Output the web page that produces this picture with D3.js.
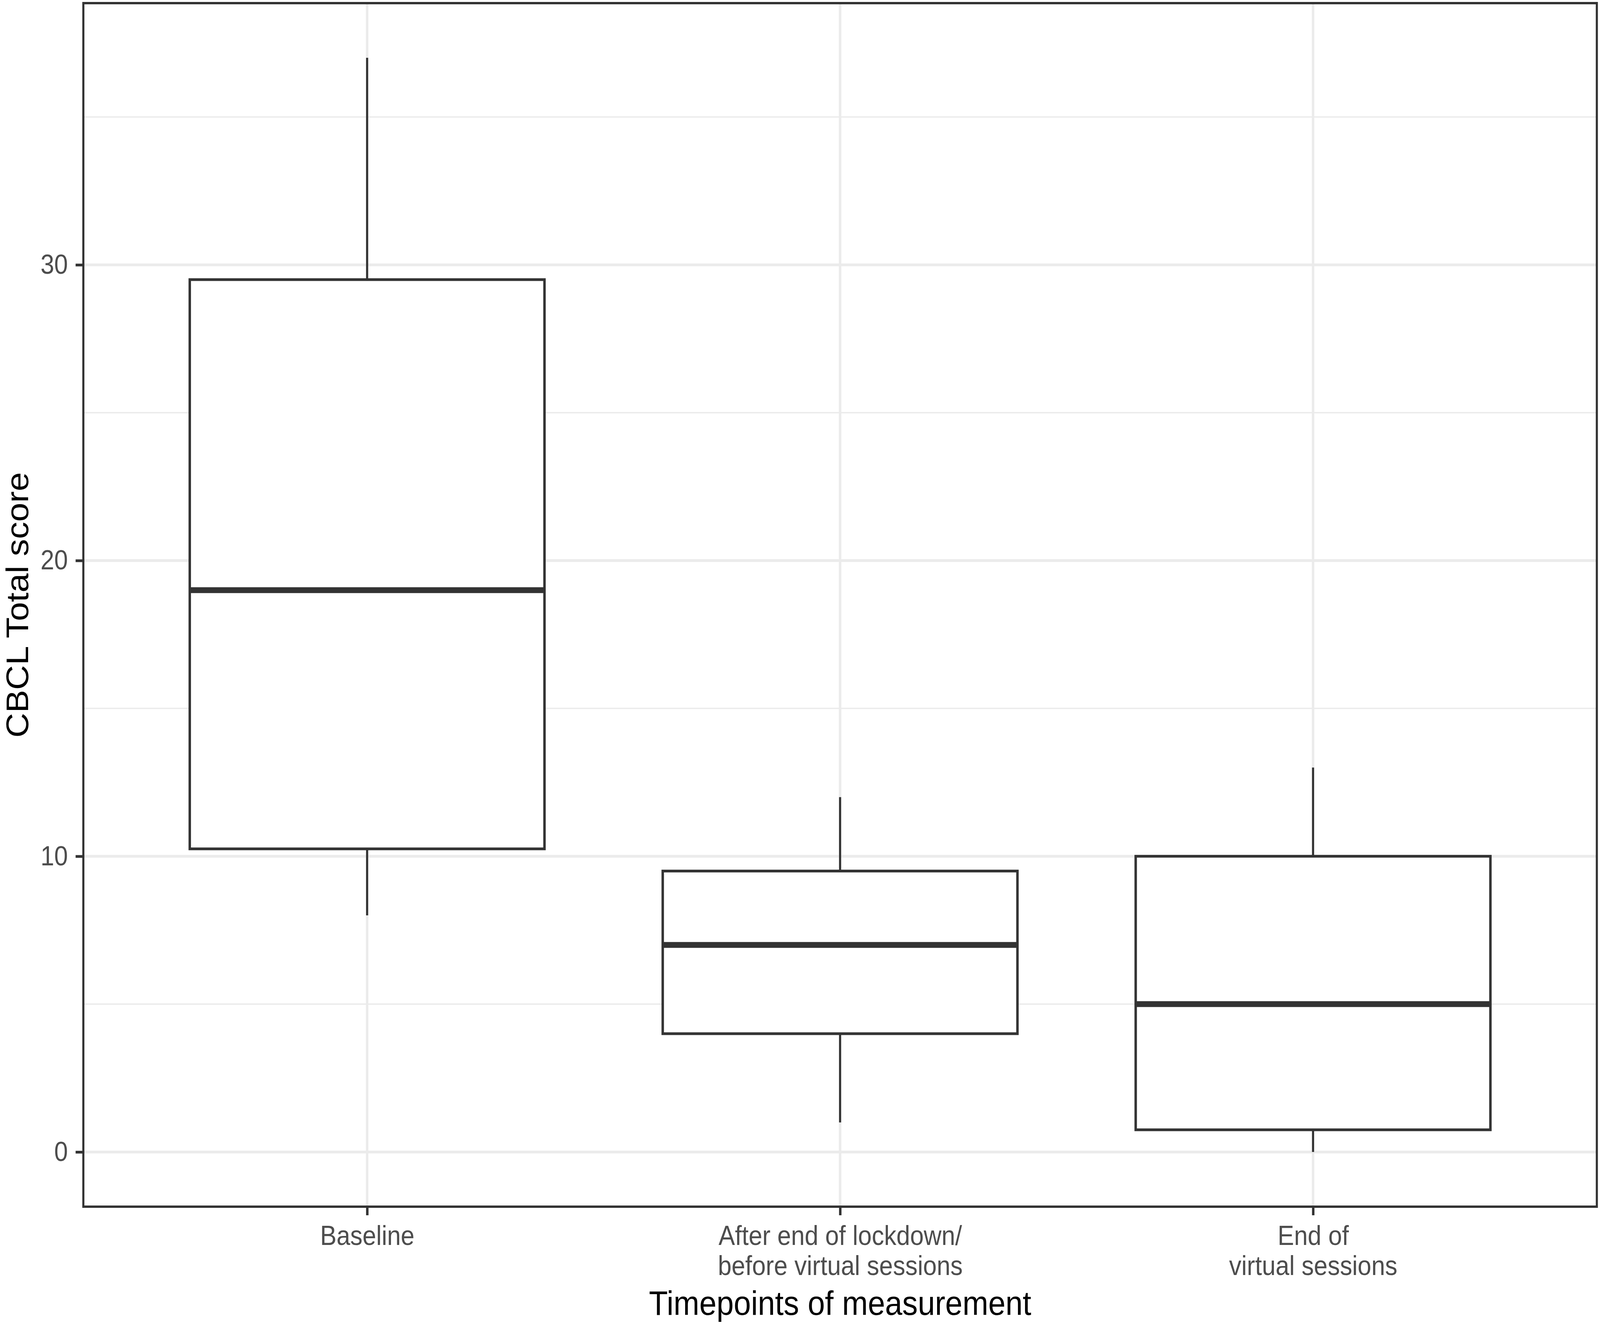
<!DOCTYPE html>
<html lang="en">
<head>
    <meta charset="UTF-8">
    <title>CBCL Total score boxplot</title>
    <script src="https://cdn.jsdelivr.net/npm/d3@7"></script>
    <style>
        html, body {
            margin: 0;
            padding: 0;
            overflow: hidden;
            background: #fff;
        }

        #chart {
            display: block;
            width: 100vw;
            height: 100vh;
        }

        svg text {
            font-family: "Liberation Sans", Arial, sans-serif;
        }
    </style>
</head>
<body>
<!-- drawn in the reference's own pixel space, stretched to whatever window we get -->
<svg id="chart" viewBox="0 0 4550 3393" preserveAspectRatio="none"></svg>
<script>
    // values
    var categories = ['Baseline', 'After end of lockdown/\nbefore virtual sessions', 'End of\nvirtual sessions']
    var whiskerLow = [8, 1, 0]
    var q1 = [10.25, 4, 0.75]
    var median = [19, 7, 5]
    var q3 = [29.5, 9.5, 10]
    var whiskerHigh = [37, 12, 13]
    var yTicks = [0, 10, 20, 30]
    var yMinor = [5, 15, 25, 35]

    var W = 4550, H = 3393
    var panel = {left: 237, right: 4541, top: 8, bottom: 3090}
    var INK = '#333333'

    var svg = d3.select('#chart')
    svg.append('rect').attr('width', W).attr('height', H).attr('fill', '#fff')

    // ggplot style: 5% expansion on continuous, 0.6 on discrete
    var lo = d3.min(whiskerLow), hi = d3.max(whiskerHigh)
    var pad = (hi - lo) * 0.05
    var y = d3.scaleLinear().domain([lo - pad, hi + pad]).range([panel.bottom, panel.top])
    var x = d3.scalePoint().domain(categories).range([panel.left, panel.right]).padding(0.6)
    var boxW = x.step() * 0.75

    var boxes = categories.map(function (c, i) {
        return {cat: c, low: whiskerLow[i], q1: q1[i], med: median[i], q3: q3[i], high: whiskerHigh[i]}
    })

    // grid
    var grid = svg.append('g')
    grid.selectAll('.minor').data(yMinor).enter().append('line')
        .attr('x1', panel.left).attr('x2', panel.right)
        .attr('y1', function (d) { return y(d) }).attr('y2', function (d) { return y(d) })
        .attr('stroke', '#EBEBEB').attr('stroke-width', 3.5)
    grid.selectAll('.major').data(yTicks).enter().append('line')
        .attr('x1', panel.left).attr('x2', panel.right)
        .attr('y1', function (d) { return y(d) }).attr('y2', function (d) { return y(d) })
        .attr('stroke', '#EBEBEB').attr('stroke-width', 7)
    grid.selectAll('.vmajor').data(categories).enter().append('line')
        .attr('y1', panel.top).attr('y2', panel.bottom)
        .attr('x1', function (d) { return x(d) }).attr('x2', function (d) { return x(d) })
        .attr('stroke', '#EBEBEB').attr('stroke-width', 7)

    // boxes
    var g = svg.append('g').selectAll('g').data(boxes).enter().append('g')
    g.append('line')
        .attr('x1', function (d) { return x(d.cat) }).attr('x2', function (d) { return x(d.cat) })
        .attr('y1', function (d) { return y(d.q3) }).attr('y2', function (d) { return y(d.high) })
        .attr('stroke', INK).attr('stroke-width', 6)
    g.append('line')
        .attr('x1', function (d) { return x(d.cat) }).attr('x2', function (d) { return x(d.cat) })
        .attr('y1', function (d) { return y(d.q1) }).attr('y2', function (d) { return y(d.low) })
        .attr('stroke', INK).attr('stroke-width', 6)
    g.append('rect')
        .attr('x', function (d) { return x(d.cat) - boxW / 2 })
        .attr('width', boxW)
        .attr('y', function (d) { return y(d.q3) })
        .attr('height', function (d) { return y(d.q1) - y(d.q3) })
        .attr('fill', '#fff').attr('stroke', INK).attr('stroke-width', 7)
    g.append('line')
        .attr('x1', function (d) { return x(d.cat) - boxW / 2 }).attr('x2', function (d) { return x(d.cat) + boxW / 2 })
        .attr('y1', function (d) { return y(d.med) }).attr('y2', function (d) { return y(d.med) })
        .attr('stroke', INK).attr('stroke-width', 15)

    // panel border
    svg.append('rect')
        .attr('x', panel.left).attr('y', panel.top)
        .attr('width', panel.right - panel.left).attr('height', panel.bottom - panel.top)
        .attr('fill', 'none').attr('stroke', INK).attr('stroke-width', 6)

    // axes
    var yAxis = svg.append('g')
        .attr('transform', 'translate(' + panel.left + ',0)')
        .call(d3.axisLeft(y).tickValues(yTicks).tickSizeInner(22).tickSizeOuter(0).tickPadding(22))
    var xAxis = svg.append('g')
        .attr('transform', 'translate(0,' + panel.bottom + ')')
        .call(d3.axisBottom(x).tickSizeInner(22).tickSizeOuter(0).tickPadding(26))

    ;[yAxis, xAxis].forEach(function (ax) {
        ax.select('.domain').remove()
        ax.selectAll('line').attr('stroke', INK).attr('stroke-width', 7)
        ax.selectAll('text').attr('fill', '#4D4D4D').style('font-size', '70px')
    })

    xAxis.selectAll('text').each(function (d) {
        var t = d3.select(this)
        var lines = d.split('\n')
        t.text(null)
        lines.forEach(function (s, i) {
            t.append('tspan').attr('x', 0).attr('dy', i === 0 ? '0.71em' : '77px').text(s)
        })
    }).attr('dy', null)

    // titles
    svg.append('text')
        .attr('x', (panel.left + panel.right) / 2).attr('y', 3367)
        .attr('text-anchor', 'middle').attr('fill', '#000')
        .style('font-size', '88px')
        .text('Timepoints of measurement')
    svg.append('text')
        .attr('transform', 'translate(80,' + (panel.top + panel.bottom) / 2 + ') rotate(-90)')
        .attr('text-anchor', 'middle').attr('fill', '#000')
        .style('font-size', '88px')
        .text('CBCL Total score')
</script>
</body>
</html>
